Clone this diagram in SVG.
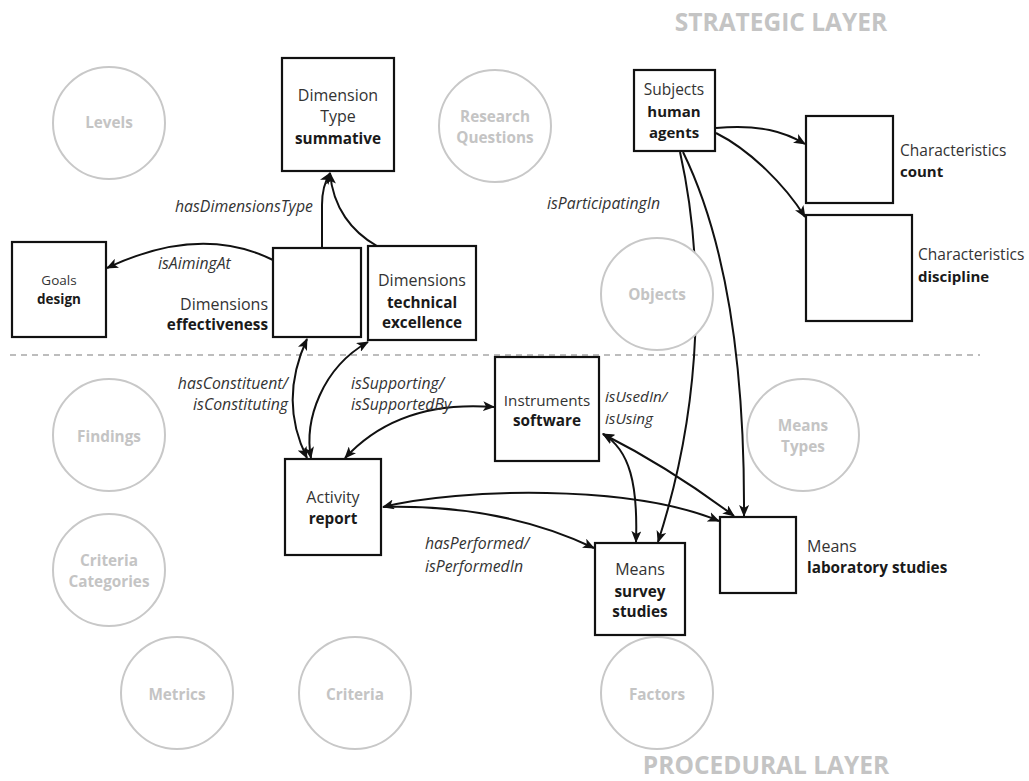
<svg xmlns="http://www.w3.org/2000/svg" width="1029" height="781" viewBox="0 0 1029 781">
<defs>
<marker id="arr" viewBox="0 0 12 10" refX="11" refY="5" markerWidth="12" markerHeight="10" markerUnits="userSpaceOnUse" orient="auto-start-reverse">
<path d="M0,0 L12,5 L0,10 L3,5 z" fill="#111"/>
</marker>
<style>
text{font-family:"Open Sans","Noto Sans","Liberation Sans",sans-serif}
.box{fill:#fff;stroke:#111;stroke-width:2.2}
.circ{fill:#fff;stroke:#c8c8c8;stroke-width:2}
.ct{font-size:15.3px;font-weight:bold;fill:#c4c4c4;text-anchor:middle}
.t{font-size:16px;fill:#333}
.b{font-size:15.3px;fill:#1a1a1a;font-weight:bold}
.m{text-anchor:middle}
.e{font-size:15.8px;font-style:italic;fill:#333}
.layer{font-size:24.5px;font-weight:bold;fill:#c4c4c4;text-anchor:middle}
.c{fill:none;stroke:#111;stroke-width:2}
</style>
</defs>
<rect width="1029" height="781" fill="#fff"/>
<line x1="10" y1="355" x2="980" y2="355" stroke="#bdbdbd" stroke-width="2" stroke-dasharray="6,5"/>
<text class="layer" x="781" y="31">STRATEGIC LAYER</text>
<text class="layer" x="766" y="774">PROCEDURAL LAYER</text>

<g id="connectors">
<path class="c" d="M322,248 L322,205 Q322,186 330,173" marker-end="url(#arr)"/>
<path class="c" d="M377,246 C352,232 333,208 330,173" marker-end="url(#arr)"/>
<path class="c" d="M273,260 Q200,224 107,268" marker-end="url(#arr)"/>
<path class="c" d="M307,339 C288,380 288,420 307,458" marker-start="url(#arr)" marker-end="url(#arr)"/>
<path class="c" d="M368,342 C322,368 304,420 311,458" marker-start="url(#arr)" marker-end="url(#arr)"/>
<path class="c" d="M345,458 C380,420 430,402 494,407" marker-start="url(#arr)" marker-end="url(#arr)"/>
<path class="c" d="M383,507 C460,488 630,484 719,521" marker-start="url(#arr)" marker-end="url(#arr)"/>
<path class="c" d="M383,507 C470,505 540,522 594,548" marker-end="url(#arr)"/>
<path class="c" d="M603,434 C630,450 638,485 636,542" marker-start="url(#arr)" marker-end="url(#arr)"/>
<path class="c" d="M603,434 Q670,468 734,516" marker-start="url(#arr)" marker-end="url(#arr)"/>
<path class="c" d="M680,152 C704,260 704,400 658,542" marker-end="url(#arr)"/>
<path class="c" d="M683,152 C722,232 745,350 744,516" marker-end="url(#arr)"/>
<path class="c" d="M716,128 C760,124 785,132 805,144" marker-end="url(#arr)"/>
<path class="c" d="M716,133 C750,150 785,185 805,217" marker-end="url(#arr)"/>
</g>

<g id="edge-labels">
<text class="e" x="175" y="212">hasDimensionsType</text>
<text class="e" x="158" y="269">isAimingAt</text>
<text class="e" x="547" y="209">isParticipatingIn</text>
<text class="e" x="288" y="389" text-anchor="end">hasConstituent/</text>
<text class="e" x="288" y="410" text-anchor="end">isConstituting</text>
<text class="e" x="351" y="389">isSupporting/</text>
<text class="e" x="351" y="410">isSupportedBy</text>
<text class="e" x="605" y="402" style="font-size:15.3px">isUsedIn/</text>
<text class="e" x="605" y="424" style="font-size:15.3px">isUsing</text>
<text class="e" x="425" y="549">hasPerformed/</text>
<text class="e" x="425" y="572">isPerformedIn</text>
</g>

<g id="levels"><circle class="circ" cx="109" cy="123" r="56"/><text class="ct" x="109" y="128">Levels</text></g>
<g id="research-questions"><circle class="circ" cx="495" cy="126" r="56"/><text class="ct" x="495" y="122">Research</text><text class="ct" x="495" y="143">Questions</text></g>
<g id="objects"><circle class="circ" cx="657" cy="294" r="56"/><text class="ct" x="657" y="300">Objects</text></g>
<g id="findings"><circle class="circ" cx="109" cy="435" r="56"/><text class="ct" x="109" y="442">Findings</text></g>
<g id="criteria-categories"><circle class="circ" cx="109" cy="570" r="56"/><text class="ct" x="109" y="566">Criteria</text><text class="ct" x="109" y="587">Categories</text></g>
<g id="metrics"><circle class="circ" cx="177" cy="693" r="56"/><text class="ct" x="177" y="700">Metrics</text></g>
<g id="criteria"><circle class="circ" cx="355" cy="693" r="56"/><text class="ct" x="355" y="700">Criteria</text></g>
<g id="factors"><circle class="circ" cx="657" cy="693" r="56"/><text class="ct" x="657" y="700">Factors</text></g>
<g id="means-types"><circle class="circ" cx="803" cy="435" r="56"/><text class="ct" x="803" y="431">Means</text><text class="ct" x="803" y="452">Types</text></g>

<g id="dimension-type"><rect class="box" x="282" y="58" width="112" height="113"/>
<text class="t m" x="338" y="101">Dimension</text><text class="t m" x="338" y="122">Type</text><text class="b m" x="338" y="144">summative</text></g>
<g id="goals"><rect class="box" x="12" y="242" width="94" height="95"/>
<text class="t m" x="59" y="285" style="font-size:13.5px">Goals</text><text class="b m" x="59" y="304" style="font-size:13.5px">design</text></g>
<g id="dim-effectiveness"><rect class="box" x="273" y="248" width="88" height="89"/>
<text class="t" x="268" y="310" text-anchor="end">Dimensions</text><text class="b" x="268" y="330" text-anchor="end">effectiveness</text></g>
<g id="dim-technical"><rect class="box" x="368" y="246" width="108" height="94"/>
<text class="t m" x="422" y="286">Dimensions</text><text class="b m" x="422" y="308">technical</text><text class="b m" x="422" y="328">excellence</text></g>
<g id="subjects"><rect class="box" x="634" y="70" width="81" height="81"/>
<text class="t m" x="674" y="95" style="font-size:15.5px">Subjects</text><text class="b m" x="674" y="117" style="font-size:15px">human</text><text class="b m" x="674" y="138" style="font-size:15px">agents</text></g>
<g id="char-count"><rect class="box" x="806" y="116" width="87" height="87"/>
<text class="t" x="900" y="156" style="font-size:15.5px">Characteristics</text><text class="b" x="900" y="177" style="font-size:15px">count</text></g>
<g id="char-discipline"><rect class="box" x="806" y="215" width="106" height="106"/>
<text class="t" x="918" y="260" style="font-size:15.5px">Characteristics</text><text class="b" x="918" y="282" style="font-size:15px">discipline</text></g>
<g id="activity"><rect class="box" x="285" y="459" width="96" height="96"/>
<text class="t m" x="333" y="503">Activity</text><text class="b m" x="333" y="524">report</text></g>
<g id="instruments"><rect class="box" x="495" y="357" width="104" height="104"/>
<text class="t m" x="547" y="406" style="font-size:15.2px">Instruments</text><text class="b m" x="547" y="426">software</text></g>
<g id="means-survey"><rect class="box" x="595" y="543" width="90" height="92"/>
<text class="t m" x="640" y="575">Means</text><text class="b m" x="640" y="597">survey</text><text class="b m" x="640" y="617">studies</text></g>
<g id="means-lab"><rect class="box" x="720" y="517" width="76" height="76"/>
<text class="t" x="807" y="552">Means</text><text class="b" x="807" y="573">laboratory studies</text></g>
</svg>
